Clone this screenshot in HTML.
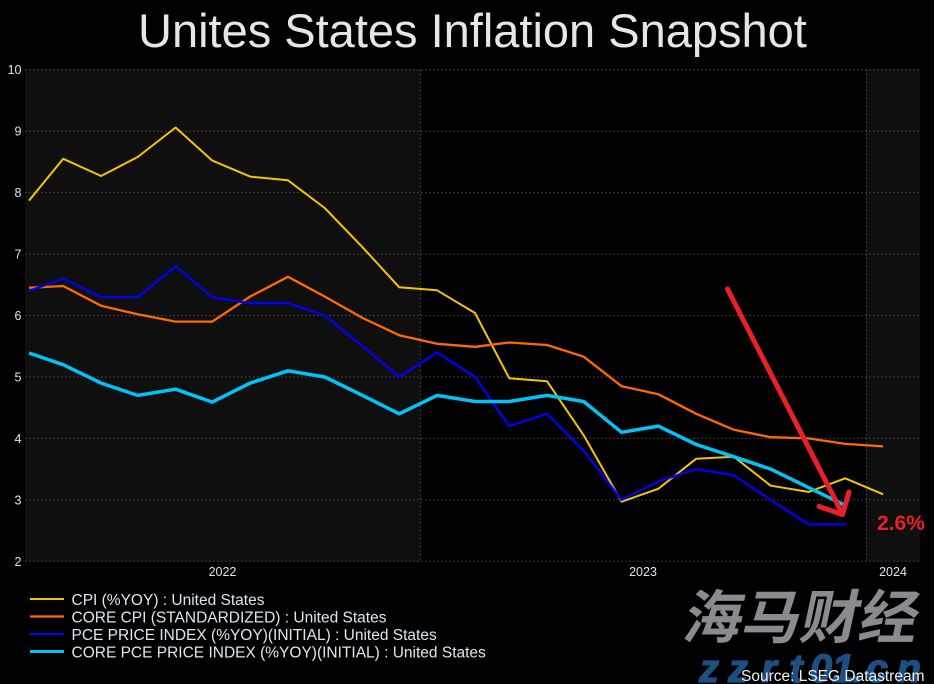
<!DOCTYPE html>
<html>
<head>
<meta charset="utf-8">
<style>
html,body{margin:0;padding:0;background:#000;}
svg{display:block;}
</style>
</head>
<body>
<svg width="934" height="684" viewBox="0 0 934 684" xmlns="http://www.w3.org/2000/svg" font-family="'Liberation Sans', Arial, sans-serif">
  <rect x="0" y="0" width="934" height="684" fill="#000"/>
  <!-- shaded year bands -->
  <rect x="25" y="69.7" width="395.5" height="491.6" fill="#0f0f0f"/>
  <rect x="866.5" y="69.7" width="53.5" height="491.6" fill="#0f0f0f"/>

  <!-- gridlines -->
  <g stroke="#4e4e4e" stroke-width="1" stroke-dasharray="1.5 2.5" fill="none">
    <line x1="25" y1="69.7" x2="920" y2="69.7"/>
    <line x1="25" y1="131.2" x2="920" y2="131.2"/>
    <line x1="25" y1="192.6" x2="920" y2="192.6"/>
    <line x1="25" y1="254.1" x2="920" y2="254.1"/>
    <line x1="25" y1="315.5" x2="920" y2="315.5"/>
    <line x1="25" y1="377.0" x2="920" y2="377.0"/>
    <line x1="25" y1="438.4" x2="920" y2="438.4"/>
    <line x1="25" y1="499.9" x2="920" y2="499.9"/>
    <line x1="25" y1="561.3" x2="920" y2="561.3"/>
    <line x1="420.5" y1="69.7" x2="420.5" y2="561.3"/>
    <line x1="866.5" y1="69.7" x2="866.5" y2="561.3"/>
  </g>

  <!-- y labels -->
  <g fill="#dce6f0" font-size="12.5" text-anchor="end">
    <text x="21.5" y="74.2">10</text>
    <text x="21.5" y="135.7">9</text>
    <text x="21.5" y="197.1">8</text>
    <text x="21.5" y="258.6">7</text>
    <text x="21.5" y="320">6</text>
    <text x="21.5" y="381.5">5</text>
    <text x="21.5" y="442.9">4</text>
    <text x="21.5" y="504.4">3</text>
    <text x="21.5" y="565.8">2</text>
  </g>
  <!-- x labels -->
  <g fill="#dce6f0" font-size="12.5" text-anchor="middle">
    <text x="222.5" y="576">2022</text>
    <text x="643" y="576">2023</text>
    <text x="893" y="576">2024</text>
  </g>

  <!-- series -->
  <g fill="none" stroke-linejoin="round" stroke-linecap="butt">
    <!-- CPI -->
    <polyline stroke="#f5c400" stroke-width="2" points="29,200.6 63.2,158.8 101.1,176.0 137.7,157.0 175.6,127.5 212.3,160.6 250.2,176.6 288,180.3 324.7,208.0 362.6,247.3 399.2,287.2 437.1,290.3 475,313.0 509.2,378.2 547.1,381.3 583.7,435.3 621.6,501.7 658.3,488.8 696.2,458.7 734,456.8 770.7,485.7 808.6,491.9 845.2,478.3 883.1,494.3"/>
    <!-- CORE CPI -->
    <polyline stroke="#ff6a00" stroke-width="2.3" points="29,287.8 63.2,286.0 101.1,305.7 137.7,314.3 175.6,321.6 212.3,321.6 250.2,296.5 288,276.8 324.7,296.5 362.6,318.0 399.2,335.2 437.1,343.8 475,346.8 509.2,342.5 547.1,345.0 583.7,356.7 621.6,386.2 658.3,394.2 696.2,413.8 734,429.8 770.7,437.2 808.6,438.4 845.2,443.9 883.1,446.4"/>
    <!-- PCE -->
    <polyline stroke="#0000f5" stroke-width="2.3" points="29,290.9 63.2,278.6 101.1,297.1 137.7,297.1 175.6,266.3 212.3,297.1 250.2,303.2 288,303.2 324.7,315.5 362.6,346.2 399.2,377.0 437.1,352.4 475,377.0 509.2,426.1 547.1,413.8 583.7,450.7 621.6,499.9 658.3,481.4 696.2,469.1 734,475.3 770.7,499.9 808.6,524.4 846,524.4"/>
    <!-- CORE PCE -->
    <polyline stroke="#00c4f4" stroke-width="3.5" points="29,353.0 63.2,364.7 101.1,383.1 137.7,395.4 175.6,389.2 212.3,402.1 250.2,383.1 288,370.8 324.7,377.0 362.6,395.4 399.2,413.8 437.1,395.4 475,401.5 509.2,401.5 547.1,395.4 583.7,401.5 621.6,432.3 658.3,426.1 696.2,444.5 734,456.8 770.7,469.1 808.6,487.6 844,504.8"/>
  </g>

  <!-- red arrow -->
  <g stroke="#e8202a" stroke-width="5" stroke-linecap="round" stroke-linejoin="round" fill="none">
    <line x1="727.5" y1="289" x2="842.5" y2="514"/>
    <polyline points="819,506.5 842.5,514.5 849,492"/>
  </g>
  <text x="877" y="530" fill="#e8202a" font-size="21" font-weight="bold">2.6%</text>

  <!-- title -->
  <text x="138" y="47" fill="#e6e6e6" font-size="47">Unites States Inflation Snapshot</text>

  <!-- legend -->
  <g stroke-width="2.3">
    <line x1="30" y1="599" x2="64" y2="599" stroke="#f5c400" stroke-width="2"/>
    <line x1="30" y1="616.5" x2="64" y2="616.5" stroke="#ff6a00"/>
    <line x1="30" y1="634" x2="64" y2="634" stroke="#0000f5"/>
    <line x1="30" y1="651.5" x2="64" y2="651.5" stroke="#00c4f4" stroke-width="3"/>
  </g>
  <g fill="#dce6f0" font-size="15.5">
    <text x="71.5" y="605">CPI (%YOY) : United States</text>
    <text x="71.5" y="622.5">CORE CPI (STANDARDIZED) : United States</text>
    <text x="71.5" y="640">PCE PRICE INDEX (%YOY)(INITIAL) : United States</text>
    <text x="71.5" y="657.5">CORE PCE PRICE INDEX (%YOY)(INITIAL) : United States</text>
  </g>

  <!-- watermark -->
  <g transform="translate(681,638) skewX(-12)">
    <text x="0" y="0" fill="#8d8991" font-size="58" font-weight="bold" font-family="'Liberation Sans','Noto Sans CJK SC',sans-serif" textLength="234" lengthAdjust="spacingAndGlyphs">海马财经</text>
  </g>
  <g fill="#1d4f82" stroke="#1d4f82" stroke-width="1.2" font-size="40" font-weight="bold" font-style="italic" text-anchor="middle">
    <text x="709" y="682">z</text>
    <text x="738" y="682">z</text>
    <text x="769" y="682">r</text>
    <text x="796" y="682">t</text>
    <text x="821" y="682">0</text>
    <text x="843" y="682">1</text>
    <text x="858" y="682">.</text>
    <text x="877" y="682">c</text>
    <text x="909" y="682">n</text>
  </g>

  <text x="741" y="681" fill="#f0f0f0" font-size="15.5">Source: LSEG Datastream</text>
</svg>
</body>
</html>
